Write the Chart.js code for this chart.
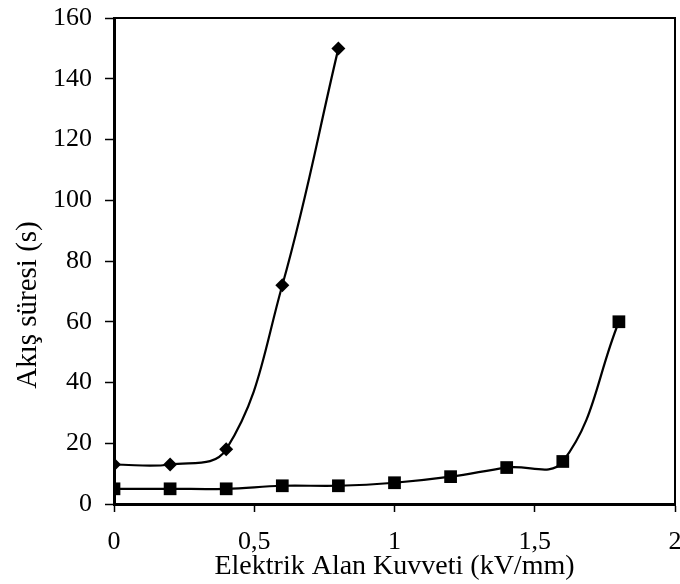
<!DOCTYPE html>
<html><head><meta charset="utf-8">
<script src="https://cdn.jsdelivr.net/npm/chart.js@4/dist/chart.umd.min.js"></script>
<style>html,body{margin:0;padding:0;background:#fff}#wrap{width:680px;height:584px}</style>
</head><body><div id="wrap"><canvas id="c" width="680" height="584"></canvas></div>
<script>
const xDiamond = [0, 0.2, 0.4, 0.6, 0.8];
const yDiamond = [13, 13, 18, 72, 150];
const xSquare = [0, 0.2, 0.4, 0.6, 0.8, 1.0, 1.2, 1.4, 1.6, 1.8];
const ySquare = [5, 5, 5, 6, 6, 7, 9, 12, 14, 60];
const xTitle = 'Elektrik Alan Kuvveti (kV/mm)';
const yTitle = 'Akış süresi (s)';

const FONT = "'Liberation Serif', 'Times New Roman', serif";
const frame = {
  id: 'frame',
  afterDraw(chart) {
    const a = chart.chartArea, ctx = chart.ctx;
    ctx.save();
    ctx.strokeStyle = '#000';
    ctx.lineWidth = 2;
    ctx.beginPath();
    ctx.moveTo(a.left, a.top); ctx.lineTo(a.right, a.top); ctx.lineTo(a.right, a.bottom);
    ctx.stroke();
    // y axis title (positioned like the reference, slightly below centre)
    ctx.fillStyle = '#000';
    ctx.font = "29px " + FONT;
    ctx.textAlign = 'center';
    ctx.textBaseline = 'middle';
    ctx.translate(28, 305);
    ctx.rotate(-Math.PI / 2);
    ctx.fillText(yTitle, 0, 0);
    ctx.restore();
  }
};
function noPad(s) { s.paddingTop = 0; s.paddingBottom = 0; s.paddingLeft = 0; s.paddingRight = 0; }
new Chart(document.getElementById('c'), {
  type: 'line',
  data: {
    datasets: [
      { data: xDiamond.map((x, i) => ({x, y: yDiamond[i]})), borderColor: '#000', backgroundColor: '#000',
        borderWidth: 2.2, tension: 0.4, pointStyle: 'rectRot', pointRadius: 7, pointBorderWidth: 0 },
      { data: xSquare.map((x, i) => ({x, y: ySquare[i]})), borderColor: '#000', backgroundColor: '#000',
        borderWidth: 2.2, tension: 0.4, pointStyle: 'rect', pointRadius: 9, pointBorderWidth: 0 }
    ]
  },
  options: {
    responsive: false, animation: false,
    layout: { autoPadding: false, padding: { top: 18, right: 5, left: 0, bottom: 0 } },
    plugins: { legend: { display: false }, tooltip: { enabled: false } },
    scales: {
      x: {
        type: 'linear', min: 0, max: 2,
        ticks: { stepSize: 0.5, color: '#000', font: { family: FONT, size: 26, lineHeight: 1 }, padding: 17,
                 callback: v => String(v).replace('.', ',') },
        grid: { drawOnChartArea: false, drawTicks: true, tickLength: 8, tickColor: '#000', tickWidth: 1.5 },
        border: { color: '#000', width: 3 },
        title: { display: true, text: xTitle, color: '#000', font: { family: FONT, size: 28, lineHeight: 1 }, padding: { top: 0, bottom: 3 } },
        afterFit: s => { s.height = 80; noPad(s); }
      },
      y: {
        min: 0, max: 160,
        ticks: { stepSize: 20, color: '#000', font: { family: FONT, size: 26, lineHeight: 1 }, padding: 13 },
        grid: { drawOnChartArea: false, drawTicks: true, tickLength: 9, tickColor: '#000', tickWidth: 1.5 },
        border: { color: '#000', width: 3 },
        title: { display: false },
        afterFit: s => { s.width = 114; noPad(s); }
      }
    }
  },
  plugins: [frame]
});
</script></body></html>
